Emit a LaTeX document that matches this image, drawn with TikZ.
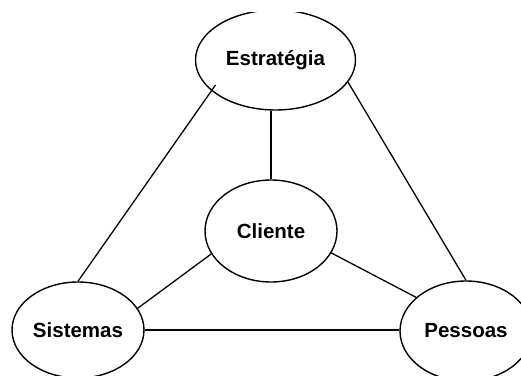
\documentclass[tikz,border=0pt]{standalone}
\usepackage{fontspec}
\setmainfont{Liberation Sans}
\usetikzlibrary{shapes.geometric,calc}
\begin{document}
\begin{tikzpicture}[x=1pt,y=-1pt,
  blob/.style={ellipse,draw=black,line width=1.4pt,inner sep=0pt,
    font=\bfseries\fontsize{20.5}{24}\selectfont},
  link/.style={draw=black,line width=1.3pt}]
\useasboundingbox (0,0) rectangle (521,377);
\clip (0,13) rectangle (521,375);
\node[blob,minimum width=160pt,minimum height=100pt] (E) at (275.5,60) {Estratégia};
\node[blob,minimum width=132pt,minimum height=102pt] (C) at (271,231) {Cliente};
\node[blob,minimum width=132pt,minimum height=96pt] (S) at (78,330) {Sistemas};
\node[blob,minimum width=132pt,minimum height=100pt] (P) at (466,331) {Pessoas};
% spokes from the centre ellipse
\draw[link] (C.north) -- (C.north |- E.south);
\draw[link] (C.201) -- (S.20);
\draw[link] (C.-20) -- (P.146);
% outer triangle
\draw[link] ($(E.center)+(-60,25)$) -- (S.north);
\draw[link] (E.-17) -- (P.north);
\draw[link] (S.east) -- (S.east -| P.west);
\end{tikzpicture}
\end{document}
